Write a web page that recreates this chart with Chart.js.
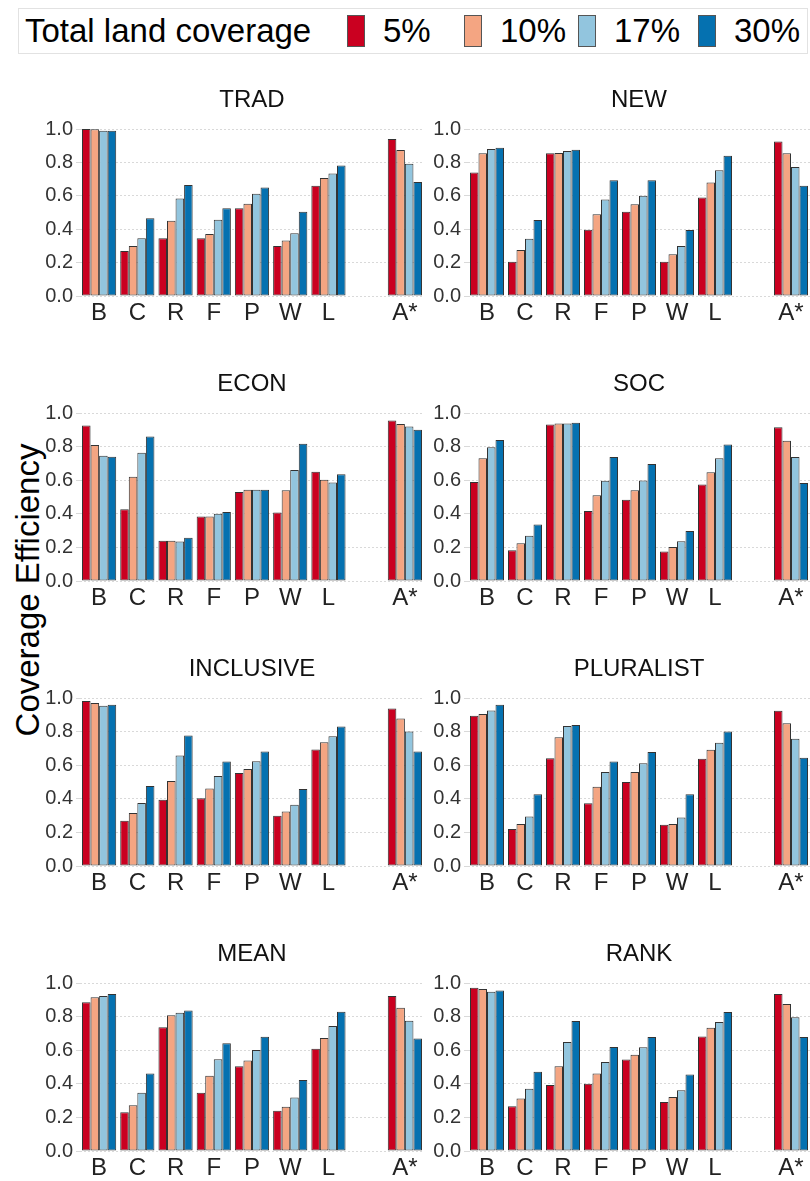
<!DOCTYPE html>
<html>
<head>
<meta charset="utf-8">
<script src="https://cdn.jsdelivr.net/npm/chart.js@4"></script>
<style>
  body { margin: 0; background: #fff; font-family: "Liberation Sans", Arial, sans-serif; }
  #page { position: relative; width: 810px; height: 1181px; overflow: hidden; }
  #legend { position: absolute; left: 18px; top: 8px; width: 788px; height: 44px; border: 1px solid #e2e2e2; }
  #legend span { position: absolute; top: 0; line-height: 44px; font-size: 33px; color: #000; white-space: nowrap; }
  #legend i { position: absolute; top: 6px; width: 18px; height: 32px; border: 1px solid #555; box-sizing: border-box; }
  #ytitle { position: absolute; left: 28px; top: 590px; font-size: 33px; color: #000; white-space: nowrap;
            transform: translate(-50%, -50%) rotate(-90deg); }
  canvas { position: absolute; }
</style>
</head>
<body>
<div id="page">
  <div id="legend"></div>
  <div id="ytitle">Coverage Efficiency</div>
</div>
<script>
'use strict';

// categories: 7 strategies, an empty slot, then the A* panel
var categories = ['B', 'C', 'R', 'F', 'P', 'W', 'L', '', 'A*'];
var coverageLabels = ['5%', '10%', '17%', '30%'];
var coverageColors = ['#CA0020', '#F4A582', '#92C5DE', '#0571B0'];

// rows are 5%, 10%, 17%, 30%; columns B C R F P W L A*
var TRAD = [
  [1.0, 0.27, 0.346, 0.346, 0.526, 0.30, 0.66, 0.94],
  [0.998, 0.30, 0.45, 0.372, 0.552, 0.332, 0.706, 0.874],
  [0.99, 0.346, 0.584, 0.456, 0.612, 0.376, 0.734, 0.792],
  [0.99, 0.466, 0.664, 0.526, 0.65, 0.504, 0.782, 0.682]
];
var NEW = [
  [0.74, 0.205, 0.855, 0.397, 0.505, 0.205, 0.59, 0.925],
  [0.855, 0.275, 0.857, 0.49, 0.55, 0.25, 0.68, 0.855],
  [0.88, 0.343, 0.868, 0.578, 0.60, 0.30, 0.753, 0.772],
  [0.887, 0.455, 0.876, 0.693, 0.693, 0.395, 0.84, 0.66]
];
var ECON = [
  [0.925, 0.427, 0.24, 0.384, 0.53, 0.408, 0.65, 0.955],
  [0.81, 0.62, 0.24, 0.384, 0.543, 0.54, 0.602, 0.935],
  [0.745, 0.763, 0.235, 0.40, 0.543, 0.66, 0.586, 0.92],
  [0.74, 0.86, 0.258, 0.41, 0.543, 0.817, 0.636, 0.90]
];
var SOC = [
  [0.59, 0.183, 0.932, 0.417, 0.483, 0.175, 0.575, 0.915],
  [0.73, 0.225, 0.938, 0.51, 0.54, 0.203, 0.648, 0.835],
  [0.796, 0.27, 0.938, 0.596, 0.598, 0.237, 0.73, 0.738],
  [0.84, 0.336, 0.942, 0.738, 0.696, 0.298, 0.813, 0.583]
];
var INCLUSIVE = [
  [0.982, 0.27, 0.394, 0.404, 0.554, 0.299, 0.693, 0.938],
  [0.97, 0.315, 0.506, 0.462, 0.578, 0.325, 0.737, 0.878],
  [0.954, 0.375, 0.657, 0.536, 0.624, 0.365, 0.773, 0.80],
  [0.96, 0.476, 0.777, 0.622, 0.681, 0.458, 0.831, 0.681]
];
var PLURALIST = [
  [0.895, 0.22, 0.642, 0.374, 0.50, 0.245, 0.638, 0.924],
  [0.905, 0.25, 0.767, 0.471, 0.559, 0.25, 0.692, 0.85],
  [0.926, 0.294, 0.833, 0.56, 0.612, 0.288, 0.733, 0.757],
  [0.96, 0.427, 0.839, 0.622, 0.678, 0.427, 0.80, 0.644]
];
var MEAN = [
  [0.885, 0.23, 0.736, 0.347, 0.504, 0.24, 0.609, 0.923],
  [0.915, 0.272, 0.808, 0.448, 0.538, 0.264, 0.673, 0.853],
  [0.923, 0.347, 0.823, 0.546, 0.601, 0.319, 0.744, 0.776],
  [0.935, 0.462, 0.837, 0.641, 0.68, 0.423, 0.829, 0.669]
];
var RANK = [
  [0.972, 0.266, 0.393, 0.40, 0.544, 0.292, 0.681, 0.934],
  [0.964, 0.312, 0.504, 0.462, 0.573, 0.321, 0.734, 0.875],
  [0.948, 0.371, 0.649, 0.53, 0.617, 0.361, 0.768, 0.796],
  [0.956, 0.472, 0.774, 0.619, 0.679, 0.456, 0.827, 0.679]
];

var panels = [
  { title: 'TRAD', data: TRAD, col: 0, row: 0 },
  { title: 'NEW', data: NEW, col: 1, row: 0 },
  { title: 'ECON', data: ECON, col: 0, row: 1 },
  { title: 'SOC', data: SOC, col: 1, row: 1 },
  { title: 'INCLUSIVE', data: INCLUSIVE, col: 0, row: 2 },
  { title: 'PLURALIST', data: PLURALIST, col: 1, row: 2 },
  { title: 'MEAN', data: MEAN, col: 0, row: 3 },
  { title: 'RANK', data: RANK, col: 1, row: 3 }
];

// page geometry
var colLeft = [0, 422];
var colWidth = [424, 388];
var yAxisWidth = [80, 46];
var rowTop = [84, 368, 653, 938];
var plotHeight = [167, 168, 168, 168];
var titleBlock = 45;
var xAxisHeight = 32;

var FONT = '"Liberation Sans", Arial, sans-serif';

// legend
var legend = document.getElementById('legend');
var legendHtml = '<span style="left:6px">Total land coverage</span>';
var keyX = [328, 445, 559, 679];
coverageLabels.forEach(function(label, i) {
  legendHtml += '<i style="left:' + keyX[i] + 'px;background:' + coverageColors[i] + '"></i>';
  legendHtml += '<span style="left:' + (keyX[i] + 36) + 'px">' + label + '</span>';
});
legend.innerHTML = legendHtml;

// insert the empty slot between L and A*
function withGap(values) {
  return values.slice(0, 7).concat([null], values.slice(7));
}

function isMajor(v) {
  return Math.round(v * 10) % 2 === 0;
}

function createPanel(panel) {
  var page = document.getElementById('page');
  var canvas = document.createElement('canvas');
  var w = colWidth[panel.col];
  var h = titleBlock + plotHeight[panel.row] + xAxisHeight;
  canvas.width = w;
  canvas.height = h;
  canvas.style.left = colLeft[panel.col] + 'px';
  canvas.style.top = rowTop[panel.row] + 'px';
  page.appendChild(canvas);

  var datasets = panel.data.map(function(values, i) {
    return {
      label: coverageLabels[i],
      data: withGap(values),
      backgroundColor: coverageColors[i],
      borderColor: '#333',
      borderWidth: 1,
      borderSkipped: false,
      categoryPercentage: 34 / 38,
      barPercentage: 1.0
    };
  });

  new Chart(canvas.getContext('2d'), {
    type: 'bar',
    data: { labels: categories, datasets: datasets },
    options: {
      responsive: false,
      animation: false,
      layout: { padding: 0 },
      plugins: {
        legend: { display: false },
        tooltip: { enabled: false },
        title: {
          display: true,
          text: panel.title,
          fullSize: false,
          color: '#111',
          font: { family: FONT, size: 24, weight: 'normal' },
          padding: { top: 2, bottom: 14.2 }
        }
      },
      scales: {
        x: {
          grid: { display: false, drawTicks: false },
          border: { display: false },
          ticks: {
            color: '#222',
            padding: 3,
            font: { family: FONT, size: 24 },
            autoSkip: false,
            maxRotation: 0
          },
          afterFit: function(scale) { scale.height = xAxisHeight; }
        },
        y: {
          min: 0,
          max: 1.0,
          border: { display: false, dash: [2, 2] },
          grid: {
            color: '#d9d9d9',
            lineWidth: 1,
            drawTicks: true,
            tickLength: 4,
            tickColor: '#d9d9d9'
          },
          ticks: {
            stepSize: 0.1,
            padding: 3,
            color: '#333',
            font: { family: FONT, size: 20 },
            callback: function(v) {
              return isMajor(v) ? (Math.round(v * 10) / 10).toFixed(1) : '';
            }
          },
          afterFit: function(scale) { scale.width = yAxisWidth[panel.col]; }
        }
      }
    }
  });
}

panels.forEach(createPanel);
</script>
</body>
</html>
